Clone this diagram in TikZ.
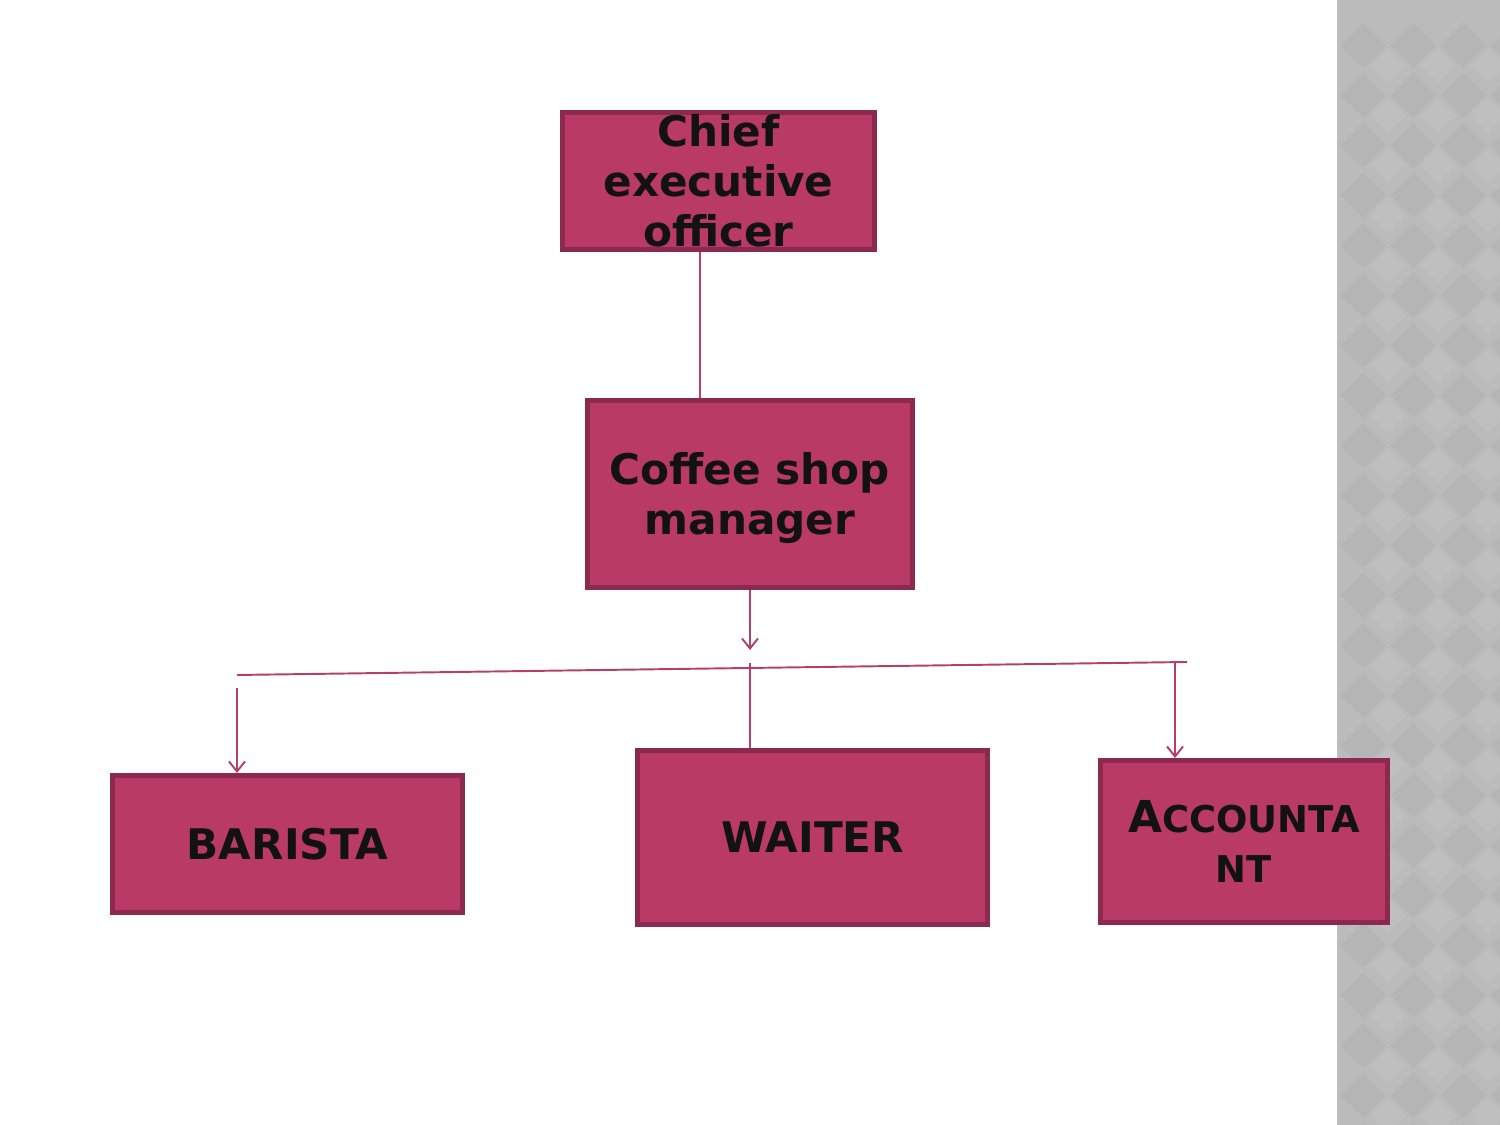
\documentclass[tikz,border=0pt]{standalone}
\usepackage{fontspec}
\setmainfont{DejaVu Sans}
\usepackage{xcolor}
\usepackage{tikz}
\usetikzlibrary{arrows.meta,positioning,calc}

\definecolor{boxfill}{HTML}{B83A65}
\definecolor{boxline}{HTML}{8C2A4D}
\definecolor{linkcol}{HTML}{B2406A}
\definecolor{stripgray}{HTML}{BBBBBB}
\definecolor{stripdark}{HTML}{B5B5B5}
\definecolor{striplight}{HTML}{BFBFBF}

\begin{document}
\begin{tikzpicture}[
    box/.style={rectangle, draw=boxline, fill=boxfill, line width=0.1cm, inner sep=0pt},
    boxtext/.style={align=center, text=black!93, font=\bfseries\fontsize{24}{28.5}\selectfont},
    link/.style={draw=linkcol, line width=1.1pt},
    arrow/.style={link, -{Straight Barb[length=0.2cm, width=0.32cm]}}
]
\useasboundingbox (0,0) rectangle (30,22.5);

% Gray strip on the right
\fill[stripgray] (26.74,0) rectangle (30,22.5);
\begin{scope}
\clip (26.74,0) rectangle (30,22.5);
\foreach \i in {0,...,3}
  \foreach \j in {0,...,23} {
    \fill[stripdark] (27.26+\i,22.04-\j) -- ++(0.45,-0.45) -- ++(-0.45,-0.45) -- ++(-0.45,0.45) -- cycle;
    \fill[striplight] (27.76+\i,21.54-\j) -- ++(0.35,-0.35) -- ++(-0.35,-0.35) -- ++(-0.35,0.35) -- cycle;
  }
\end{scope}
\draw[striplight, line width=1pt] (26.76,0) -- (26.76,22.5);

% Boxes
\node[box, minimum width=6.24cm, minimum height=2.74cm] (ceo) at (14.37,18.88) {};
\node[boxtext] at (ceo) {Chief\\executive\\officer};
\node[box, minimum width=6.5cm, minimum height=3.74cm] (mgr) at (15.0,12.62) {};
\node[boxtext] at ([yshift=-0.08cm]mgr) {Coffee shop\\manager};
\node[box, boxtext, minimum width=7.0cm, minimum height=2.74cm] (barista) at (5.75,5.62) {BARISTA};
\node[box, boxtext, minimum width=7.0cm, minimum height=3.48cm] (waiter) at (16.25,5.75) {WAITER};
\node[box, boxtext, minimum width=5.74cm, minimum height=3.24cm] (acct) at (24.88,5.67)
  {{\fontsize{25}{28.5}\selectfont A}{\fontsize{21}{28.5}\selectfont CCOUNTA}\\{\fontsize{21}{28.5}\selectfont NT}};

% Connectors
\draw[link] ([xshift=-0.37cm]ceo.south) -- ([xshift=-0.37cm]ceo.south |- mgr.north);
\coordinate (split) at (15.0,9.5);
\draw[arrow] (mgr.south) -- (split);
\coordinate (hl) at (4.74,9.0);
\coordinate (hr) at (23.74,9.26);
\draw[link] (hl) -- (hr);
\draw[arrow] (4.74,8.74) -- (4.74,8.74 |- barista.north);
\draw[link] (15.0,9.24) -- (15.0,9.24 |- waiter.north);
\draw[arrow] (23.5,9.24) -- (23.5,9.24 |- acct.north);

\end{tikzpicture}
\end{document}
